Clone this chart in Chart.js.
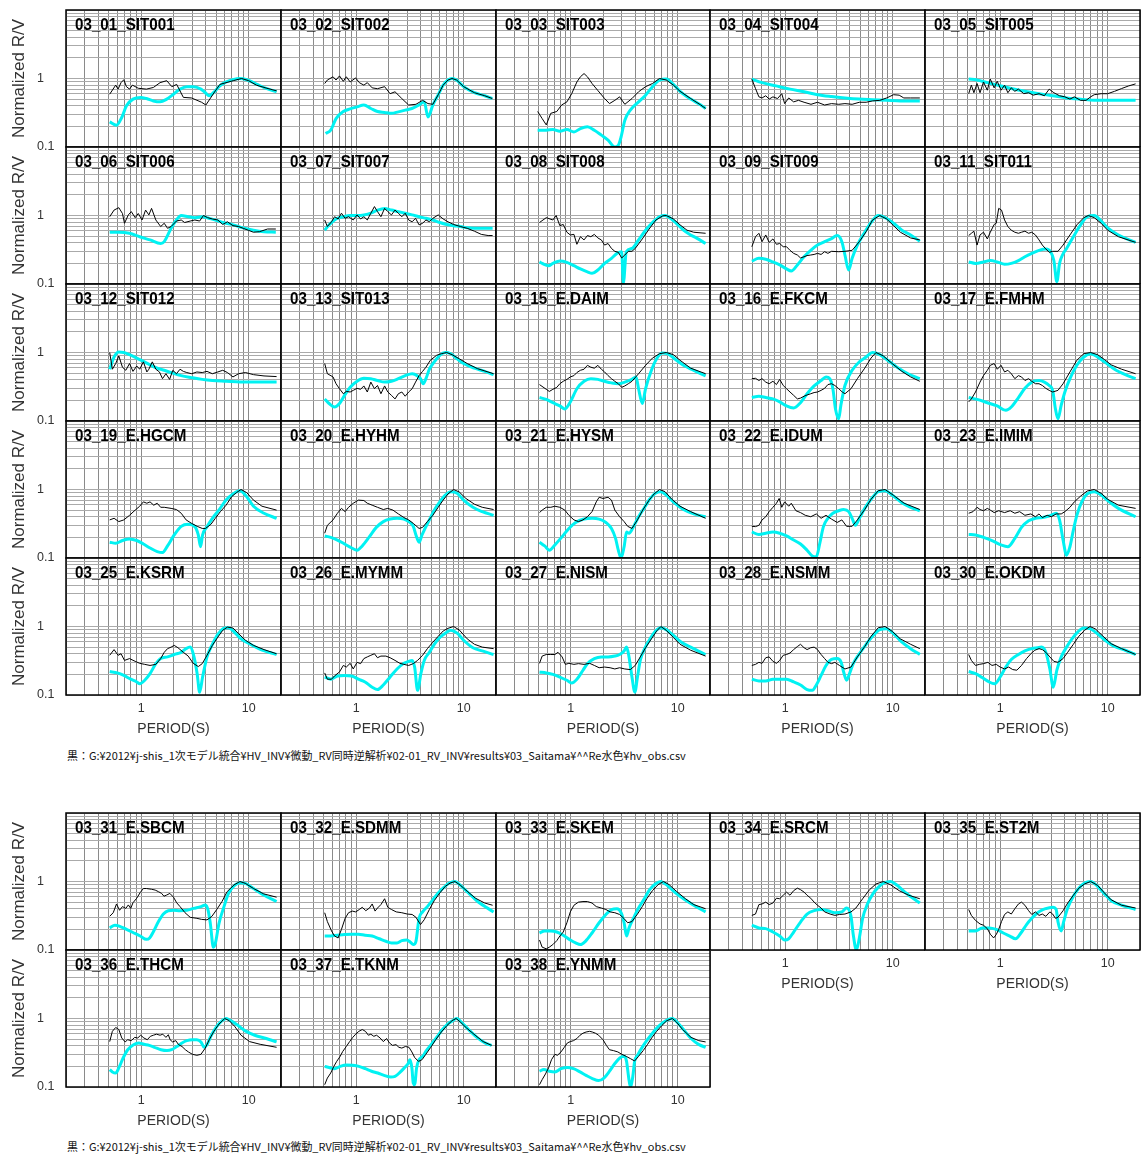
<!DOCTYPE html>
<html>
<head>
<meta charset="utf-8">
<script src="https://cdn.jsdelivr.net/npm/chart.js@4.4.1/dist/chart.umd.min.js"></script>
<style>
  body { margin: 0; background: #fff; width: 1141px; height: 1155px; position: relative; overflow: hidden; }
  canvas { position: absolute; }
  .note { position: absolute; left: 67px; font-family: "Noto Sans CJK JP", sans-serif; font-size: 11px; line-height: 14px;
          color: #111; white-space: nowrap; transform-origin: 0 50%; }
</style>
</head>
<body>
<div class="note" id="note1" style="top:748px">黒：G:¥2012¥j-shis_1次モデル統合¥HV_INV¥微動_RV同時逆解析¥02-01_RV_INV¥results¥03_Saitama¥^^Re水色¥hv_obs.csv</div>
<div class="note" id="note2" style="top:1139px">黒：G:¥2012¥j-shis_1次モデル統合¥HV_INV¥微動_RV同時逆解析¥02-01_RV_INV¥results¥03_Saitama¥^^Re水色¥hv_obs.csv</div>
<script>
// station panels, in reading order (25 on the first sheet, 8 on the second)
const stations = [
  '03_01_SIT001', '03_02_SIT002', '03_03_SIT003', '03_04_SIT004', '03_05_SIT005',
  '03_06_SIT006', '03_07_SIT007', '03_08_SIT008', '03_09_SIT009', '03_11_SIT011',
  '03_12_SIT012', '03_13_SIT013', '03_15_E.DAIM', '03_16_E.FKCM', '03_17_E.FMHM',
  '03_19_E.HGCM', '03_20_E.HYHM', '03_21_E.HYSM', '03_22_E.IDUM', '03_23_E.IMIM',
  '03_25_E.KSRM', '03_26_E.MYMM', '03_27_E.NISM', '03_28_E.NSMM', '03_30_E.OKDM',
  '03_31_E.SBCM', '03_32_E.SDMM', '03_33_E.SKEM', '03_34_E.SRCM', '03_35_E.ST2M',
  '03_36_E.THCM', '03_37_E.TKNM', '03_38_E.YNMM'
];

// observed R/V (black), flat lists of period, value
const observed = [
  [.51,.59,.58,.80,.61,.70,.65,.87,.69,.96,.73,.76,.78,.70,.83,.80,.94,.72,1.12,.70,1.3,.74,1.5,.87,1.73,.93,1.93,.76,2.14,.82,2.47,.53,2.94,.52,3.65,.45,4.0,.41,4.9,.66,5.4,.82,7.2,.93,8.6,1.0,10,.93,11.8,.80,14.8,.72,18.2,.66],
  [.51,.845,.54,.95,.61,1.06,.65,.95,.70,1.09,.76,.91,.81,1.06,.88,.89,.99,1.02,1.07,.87,1.18,.80,1.27,.87,1.41,.73,1.58,.71,1.84,.76,2.07,.60,2.3,.64,2.66,.51,3.08,.41,3.6,.42,4.15,.48,4.66,.43,5.17,.42,5.8,.58,6.45,.80,7.15,.95,7.8,1.0,8.6,.95,10,.76,12.6,.62,15.7,.56,18.5,.51],
  [.49,.33,.54,.26,.59,.21,.65,.31,.74,.33,.82,.41,.92,.456,1.02,.60,1.14,.89,1.23,1.06,1.33,1.18,1.43,1.06,1.58,.845,1.78,.675,2.07,.51,2.3,.43,2.58,.48,2.86,.54,3.2,.42,3.73,.51,4.3,.64,5.0,.76,5.8,.845,6.75,1.0,7.8,.95,9.1,.80,10.5,.65,13.2,.51,16.4,.41,18.2,.365],
  [.49,.98,.53,.714,.57,.54,.61,.52,.66,.56,.71,.50,.77,.54,.85,.51,.93,.60,.99,.43,1.08,.52,1.2,.456,1.33,.48,1.5,.45,1.74,.42,2.0,.45,2.33,.41,2.7,.43,3.15,.42,3.6,.43,4.2,.42,4.9,.45,5.67,.45,6.5,.47,7.6,.48,8.8,.52,10.2,.58,11.5,.571,12.7,.52,14.7,.52,17.9,.52],
  [.51,.60,.54,.80,.57,.62,.61,.845,.65,.62,.70,.89,.76,.675,.81,.98,.88,.73,.94,.91,1.02,.675,1.1,.80,1.18,.62,1.27,.73,1.37,.65,1.48,.70,1.66,.60,1.84,.62,2.03,.571,2.3,.60,2.58,.56,2.86,.70,3.16,.62,3.57,.56,4.0,.54,4.46,.50,4.9,.54,5.6,.48,6.3,.48,6.95,.54,7.5,.58,8.7,.60,10,.60,11.6,.65,13.5,.714,15.7,.78,18.2,.835],
  [.51,.96,.56,1.2,.62,1.3,.67,1.07,.70,.77,.76,1.02,.81,1.14,.88,.93,.94,1.07,1.02,.86,1.1,1.2,1.18,1.02,1.25,1.27,1.37,.86,1.52,.69,1.64,.77,1.76,.65,1.9,.69,2.13,.83,2.36,.86,2.54,.79,2.86,.83,3.16,.86,3.5,.83,3.8,1.0,4.15,.93,4.6,.89,5.17,.86,5.74,.74,6.35,.81,7.15,.71,8.06,.69,8.9,.65,9.9,.61,11.1,.57,12.6,.58,15,.635,17.9,.635],
  [.51,.86,.54,.69,.59,.81,.63,.96,.68,.89,.73,1.08,.79,.91,.85,.96,.94,.86,1.02,1.02,1.1,.89,1.18,.96,1.27,.86,1.37,1.08,1.48,1.35,1.58,1.14,1.7,.96,1.84,1.27,1.97,1.14,2.13,1.02,2.3,1.2,2.47,1.08,2.66,.96,2.86,1.08,3.08,.86,3.32,.81,3.57,.91,3.85,.73,4.15,.77,4.46,.86,4.8,.81,5.17,.91,5.8,1.02,6.45,.89,7.15,.81,8.06,.74,9.34,.69,10.8,.65,12.6,.59,14.6,.53,16.9,.51,18.6,.51],
  [.51,.79,.59,.93,.68,.86,.73,1.0,.79,.71,.85,.74,.92,.57,.99,.52,1.07,.53,1.14,.38,1.23,.49,1.33,.44,1.43,.51,1.54,.49,1.66,.53,1.79,.47,1.93,.44,2.07,.37,2.23,.39,2.4,.33,2.58,.30,2.78,.29,2.99,.24,3.2,.265,3.45,.30,3.73,.30,4.0,.33,4.66,.455,5.4,.635,6.25,.86,7.25,.99,7.8,1.0,9.1,.89,10.5,.73,12.2,.61,14.1,.57,18.2,.55],
  [.49,.35,.53,.49,.57,.55,.61,.415,.66,.52,.71,.405,.77,.455,.83,.38,.89,.39,.96,.35,1.03,.35,1.11,.31,1.2,.28,1.3,.265,1.39,.24,1.5,.25,1.6,.26,1.73,.265,1.86,.27,2.0,.28,2.16,.27,2.33,.296,2.5,.28,2.7,.30,3.15,.296,3.6,.30,4.2,.31,4.9,.415,5.67,.58,6.5,.86,7.6,1.0,8.8,.89,10.2,.71,11.8,.57,14.7,.47,17.9,.44],
  [.51,.51,.54,.55,.57,.59,.61,.37,.65,.52,.70,.57,.76,.455,.81,.57,.88,.74,.92,.77,.97,1.27,1.03,1.2,1.1,.86,1.18,.69,1.27,.61,1.37,.57,1.48,.55,1.58,.57,1.7,.59,1.84,.55,1.97,.57,2.13,.52,2.3,.44,2.47,.37,2.66,.325,2.86,.29,3.08,.30,3.45,.30,3.85,.37,4.46,.52,5.17,.73,6.0,.93,6.6,1.0,7.5,.93,8.7,.77,10,.61,12.6,.49,18.2,.405],
  [.51,1.0,.54,.57,.58,.69,.62,.89,.67,.61,.72,.55,.78,.69,.84,.53,.91,.635,.97,.57,1.05,.73,1.13,.52,1.18,.57,1.27,.73,1.37,.57,1.48,.52,1.58,.415,1.7,.49,1.84,.405,1.97,.55,2.13,.49,2.3,.57,2.47,.53,2.66,.51,2.95,.49,3.3,.52,3.7,.51,4.1,.53,4.6,.49,5.17,.52,5.74,.55,6.35,.51,7.15,.44,8.06,.49,9.34,.51,11.1,.475,13.9,.455,18.2,.445],
  [.51,.69,.54,.49,.61,.44,.65,.35,.70,.296,.76,.25,.81,.27,.88,.265,.94,.28,1.02,.30,1.1,.29,1.18,.325,1.27,.265,1.37,.37,1.48,.296,1.58,.33,1.7,.25,1.84,.325,1.97,.265,2.13,.237,2.3,.21,2.47,.25,2.66,.265,2.86,.23,3.08,.265,3.32,.296,3.57,.37,3.85,.46,4.15,.53,4.46,.61,4.9,.77,5.6,.91,6.2,.96,6.95,1.0,7.8,.93,9.1,.81,10.8,.69,13.5,.58,19,.49],
  [.51,.34,.59,.29,.63,.27,.68,.29,.74,.31,.79,.35,.85,.38,.92,.405,.99,.44,1.07,.46,1.14,.51,1.23,.55,1.33,.57,1.43,.65,1.54,.61,1.66,.59,1.79,.65,1.93,.57,2.07,.52,2.23,.46,2.4,.415,2.58,.38,2.78,.35,2.99,.31,3.2,.325,3.45,.35,3.73,.38,4.3,.49,5.0,.65,5.8,.83,6.75,.96,7.8,1.0,9.1,.93,10.5,.77,13.2,.59,18.2,.49],
  [.49,.415,.53,.42,.57,.39,.61,.415,.66,.37,.71,.35,.77,.38,.83,.34,.89,.405,.96,.33,1.03,.296,1.11,.265,1.2,.237,1.3,.21,1.39,.216,1.5,.23,1.6,.24,1.73,.25,1.86,.26,2.0,.265,2.16,.28,2.33,.30,2.5,.34,2.7,.35,2.9,.33,3.15,.296,3.4,.265,3.6,.25,4.1,.296,4.7,.415,5.5,.59,6.3,.83,7.0,1.0,8.2,.89,9.9,.69,12.2,.53,14.7,.44,17.9,.38],
  [.51,.19,.54,.21,.59,.265,.65,.37,.70,.46,.76,.55,.81,.65,.88,.69,.94,.57,1.02,.65,1.1,.52,1.18,.55,1.27,.49,1.37,.415,1.48,.46,1.58,.44,1.7,.39,1.84,.415,1.97,.38,2.13,.35,2.3,.35,2.47,.33,2.66,.30,2.86,.28,3.08,.265,3.45,.28,3.85,.35,4.46,.52,5.17,.77,6.0,.96,6.95,1.0,8.06,.93,9.34,.79,10.8,.66,13.5,.57,18.2,.49],
  [.51,.36,.56,.38,.62,.34,.69,.36,.78,.42,.88,.50,.97,.57,1.05,.66,1.13,.63,1.21,.66,1.31,.59,1.41,.63,1.52,.55,1.64,.55,1.9,.53,2.13,.51,2.36,.45,2.62,.36,2.95,.32,3.32,.29,3.7,.27,3.97,.27,4.46,.31,4.9,.38,5.46,.475,6.17,.59,6.95,.786,7.7,.9,8.5,1.0,9.6,.9,11.1,.70,13.3,.57,18.2,.50],
  [.51,.23,.54,.30,.61,.36,.67,.45,.73,.53,.79,.475,.85,.55,.94,.63,1.05,.70,1.18,.69,1.27,.63,1.41,.59,1.58,.55,1.79,.51,1.97,.53,2.2,.50,2.47,.44,2.78,.39,3.08,.36,3.4,.32,3.85,.27,4.15,.28,4.6,.34,5.17,.42,5.8,.55,6.45,.70,7.15,.86,8.06,1.0,9.1,.92,10.5,.74,12.6,.61,14.9,.55,19,.51],
  [.51,.46,.54,.50,.59,.55,.65,.55,.71,.57,.79,.55,.88,.50,.96,.42,1.07,.36,1.18,.34,1.3,.36,1.43,.40,1.58,.475,1.73,.66,1.84,.77,2.0,.74,2.23,.77,2.4,.70,2.58,.50,2.86,.40,3.15,.34,3.4,.29,3.73,.27,4.2,.36,4.7,.50,5.4,.70,6.0,.86,6.75,1.0,7.6,.93,8.8,.72,10.5,.57,13.2,.475,18.2,.38],
  [.49,.29,.53,.287,.57,.30,.61,.36,.66,.40,.71,.475,.77,.55,.83,.63,.88,.74,.93,.55,.99,.66,1.08,.57,1.14,.63,1.26,.49,1.39,.46,1.54,.42,1.73,.40,1.95,.44,2.16,.38,2.4,.42,2.7,.37,3.05,.33,3.37,.36,3.73,.29,4.2,.29,4.7,.36,5.5,.51,6.3,.72,7.35,.96,8.5,1.0,10.2,.82,12.8,.63,17.9,.51],
  [.51,.45,.56,.475,.61,.55,.65,.51,.70,.49,.76,.53,.81,.50,.88,.46,.97,.49,1.1,.46,1.24,.49,1.37,.45,1.52,.475,1.7,.42,1.93,.44,2.13,.40,2.3,.44,2.47,.39,2.74,.42,2.99,.40,3.32,.44,3.7,.44,4.0,.475,4.46,.55,4.9,.66,5.6,.80,6.45,.95,7.5,1.0,8.7,.88,10,.72,12.6,.59,18.2,.53],
  [.51,.38,.56,.46,.61,.38,.65,.40,.70,.32,.78,.34,.88,.31,.97,.29,1.08,.28,1.21,.27,1.37,.28,1.52,.34,1.64,.42,1.76,.475,1.9,.50,2.03,.53,2.2,.49,2.47,.42,2.74,.37,3.05,.29,3.4,.26,3.7,.287,4.1,.38,4.6,.53,5.17,.70,5.74,.88,6.35,.98,7.15,.95,8.06,.786,9.34,.63,11.1,.53,13.9,.46,18.2,.40],
  [.51,.21,.54,.17,.59,.17,.63,.19,.70,.217,.76,.27,.81,.256,.88,.29,.94,.24,1.02,.30,1.1,.287,1.18,.34,1.27,.36,1.37,.38,1.48,.40,1.58,.35,1.7,.37,1.89,.37,2.07,.35,2.3,.32,2.55,.29,2.78,.28,3.08,.27,3.4,.287,3.73,.32,4.15,.38,4.6,.475,5.17,.59,5.8,.72,6.45,.86,7.15,.94,8.06,1.0,9.1,.89,10.8,.66,12.6,.55,14.9,.50,19,.475],
  [.51,.29,.54,.37,.59,.39,.65,.39,.71,.39,.76,.42,.83,.36,.89,.28,.96,.29,1.07,.28,1.18,.287,1.33,.28,1.5,.29,1.66,.27,1.84,.25,2.07,.256,2.33,.25,2.58,.24,2.86,.25,3.2,.24,3.6,.235,4.0,.27,4.46,.36,5.0,.49,5.67,.66,6.35,.86,6.95,1.0,7.8,.88,9.1,.69,10.5,.55,13.2,.45,18.2,.37],
  [.49,.27,.53,.28,.57,.30,.61,.29,.66,.35,.71,.36,.77,.31,.83,.29,.89,.32,.96,.38,1.03,.39,1.11,.41,1.2,.46,1.3,.51,1.39,.55,1.5,.49,1.6,.46,1.73,.49,1.86,.50,2.0,.46,2.16,.39,2.33,.34,2.5,.30,2.7,.287,2.9,.30,3.2,.27,3.6,.24,4.1,.256,4.7,.36,5.5,.51,6.3,.72,7.35,.96,8.5,1.0,9.9,.85,11.8,.66,14.7,.55,17.9,.475],
  [.51,.39,.54,.32,.59,.27,.64,.28,.70,.287,.77,.30,.84,.27,.92,.28,1.0,.256,1.1,.24,1.2,.256,1.31,.235,1.43,.23,1.58,.27,1.76,.34,1.93,.40,2.1,.45,2.3,.475,2.47,.46,2.66,.42,2.9,.36,3.16,.31,3.45,.30,3.85,.34,4.25,.42,4.8,.55,5.4,.72,6.1,.88,6.85,1.0,7.7,.92,8.9,.74,10.8,.56,13.5,.475,18.2,.39],
  [.51,.31,.55,.35,.59,.47,.63,.38,.67,.43,.72,.405,.76,.455,.80,.405,.84,.49,.91,.57,.98,.69,1.05,.79,1.12,.79,1.25,.77,1.35,.75,1.45,.71,1.55,.67,1.63,.61,1.73,.635,1.85,.67,2.0,.59,2.14,.49,2.3,.43,2.56,.35,2.86,.30,3.3,.29,3.65,.28,4.1,.275,4.55,.31,5.05,.39,5.65,.51,6.3,.71,7.3,.89,8.3,1.0,9.3,.94,11.1,.79,13.8,.66,18.2,.59],
  [.51,.35,.54,.26,.59,.19,.63,.16,.68,.15,.73,.2,.79,.29,.85,.35,.92,.37,.99,.36,1.07,.39,1.14,.42,1.23,.375,1.33,.41,1.41,.47,1.5,.37,1.58,.41,1.7,.46,1.84,.56,1.97,.42,2.13,.39,2.36,.36,2.66,.35,2.99,.335,3.32,.33,3.6,.30,3.97,.235,4.3,.277,4.8,.39,5.33,.525,6.0,.68,6.75,.85,7.5,.95,8.3,1.0,9.34,.88,10.8,.72,12.9,.57,15.7,.485,18.6,.45],
  [.51,.14,.54,.11,.59,.104,.63,.11,.68,.12,.74,.137,.79,.16,.85,.183,.92,.25,.99,.36,1.07,.45,1.18,.50,1.3,.51,1.43,.51,1.58,.485,1.73,.43,1.93,.41,2.13,.39,2.33,.36,2.58,.35,2.86,.33,3.15,.287,3.4,.25,3.73,.26,4.2,.335,4.66,.43,5.17,.57,5.8,.735,6.55,.9,7.35,1.0,8.3,.9,9.7,.72,11.8,.56,14.1,.46,18.2,.40],
  [.49,.32,.53,.335,.57,.46,.61,.47,.66,.50,.71,.46,.77,.485,.83,.57,.89,.56,.96,.63,1.03,.70,1.11,.63,1.2,.735,1.3,.80,1.39,.76,1.5,.70,1.6,.63,1.73,.57,1.86,.50,2.0,.45,2.16,.41,2.33,.36,2.62,.335,2.9,.32,3.2,.33,3.6,.335,4.1,.36,4.55,.41,5.26,.56,6.1,.76,7.0,.92,8.2,1.0,9.5,.9,11.5,.735,14.1,.63,17.9,.56],
  [.51,.39,.54,.32,.59,.27,.65,.24,.70,.23,.76,.205,.81,.17,.87,.15,.92,.168,.97,.2,1.03,.26,1.1,.33,1.18,.36,1.27,.335,1.37,.40,1.48,.47,1.58,.50,1.7,.45,1.84,.375,1.97,.33,2.13,.36,2.3,.32,2.47,.335,2.66,.31,2.9,.36,3.08,.335,3.27,.29,3.45,.30,3.85,.375,4.25,.485,4.8,.63,5.4,.80,6.1,.92,6.95,1.0,8.06,.88,9.34,.68,10.8,.54,13.5,.45,18.2,.41],
  [.51,.46,.54,.65,.58,.74,.62,.69,.66,.52,.71,.455,.75,.49,.81,.475,.87,.53,.93,.52,.99,.57,1.06,.52,1.14,.49,1.22,.55,1.3,.57,1.39,.59,1.5,.57,1.59,.59,1.7,.53,1.79,.58,1.86,.49,1.96,.455,2.1,.475,2.23,.415,2.4,.39,2.58,.35,2.75,.325,3.0,.30,3.3,.29,3.6,.30,3.95,.37,4.3,.49,4.75,.65,5.3,.83,6.0,1.0,6.6,.93,7.4,.77,8.5,.57,10.2,.46,12.8,.42,18.2,.38],
  [.51,.108,.54,.135,.58,.16,.62,.2,.66,.237,.71,.28,.75,.33,.81,.39,.87,.46,.93,.53,.99,.59,1.06,.65,1.14,.69,1.22,.65,1.3,.57,1.37,.59,1.46,.55,1.55,.57,1.67,.52,1.79,.46,1.92,.51,2.04,.44,2.18,.405,2.35,.415,2.5,.38,2.66,.37,2.87,.39,3.1,.38,3.3,.325,3.5,.27,3.8,.237,4.1,.25,4.45,.30,4.95,.38,5.5,.49,6.2,.635,7.0,.79,7.8,.93,8.5,1.0,9.3,.89,10.6,.73,12.8,.57,15.2,.46,18.2,.405],
  [.51,.108,.54,.128,.58,.155,.62,.19,.66,.25,.71,.30,.75,.29,.81,.325,.87,.38,.93,.44,.99,.46,1.06,.475,1.14,.51,1.22,.57,1.3,.61,1.39,.635,1.5,.65,1.59,.635,1.7,.61,1.82,.57,2.0,.49,2.15,.405,2.3,.35,2.5,.34,2.75,.325,3.0,.30,3.3,.28,3.6,.26,3.95,.24,4.3,.28,4.75,.34,5.2,.415,5.7,.52,6.35,.65,7.1,.79,7.9,.93,8.9,1.0,9.7,.89,11.1,.69,13.3,.53,15.7,.475,18.2,.455]
];

// model R/V (cyan), flat lists of period, value
const model = [
  [.51,.233,.59,.208,.66,.27,.73,.40,.84,.50,.99,.53,1.12,.51,1.3,.47,1.5,.456,1.73,.50,2.0,.59,2.3,.70,2.66,.76,3.08,.76,3.6,.70,3.96,.62,4.3,.56,4.7,.62,5.4,.78,6.2,.89,8.3,1.0,9.6,.96,11.8,.83,14.8,.71,18.2,.64],
  [.52,.157,.58,.176,.65,.26,.76,.33,.88,.36,1.02,.385,1.18,.41,1.37,.365,1.58,.33,1.84,.32,2.13,.31,2.47,.326,2.86,.345,3.3,.365,3.85,.41,4.3,.456,4.66,.275,5.17,.41,5.8,.58,6.45,.80,7.15,.95,7.8,1.0,8.6,.95,10,.76,12.6,.62,15.7,.56,18.5,.51],
  [.49,.176,.59,.176,.68,.18,.79,.17,.92,.18,1.07,.166,1.23,.186,1.43,.197,1.66,.176,1.93,.149,2.23,.126,2.58,.10,2.78,.106,2.95,.14,3.2,.246,3.6,.345,4.3,.456,5.0,.571,5.8,.76,6.75,.95,7.8,.98,9.1,.82,10.5,.65,13.2,.50,16.4,.41,18.2,.365],
  [.49,.98,.61,.87,.82,.78,1.11,.70,1.5,.64,2.0,.58,2.7,.545,3.6,.52,4.9,.50,6.5,.49,8.8,.48,11.8,.47,17.9,.47],
  [.51,.98,.61,.95,.76,.87,.94,.80,1.27,.714,1.7,.65,2.3,.60,3.08,.56,4.15,.52,5.6,.50,7.5,.48,10,.48,18.2,.48],
  [.51,.57,.62,.57,.78,.55,.97,.49,1.21,.44,1.52,.39,1.64,.415,1.9,.65,2.13,.86,2.36,1.0,2.74,.96,3.16,.93,3.7,.96,4.27,.91,4.9,.86,5.74,.79,7.15,.73,8.9,.66,11.1,.61,13.9,.58,17.9,.57],
  [.51,.61,.56,.73,.65,.89,.76,.96,.88,1.0,1.02,1.0,1.18,1.02,1.37,1.08,1.58,1.2,1.84,1.27,2.13,1.2,2.47,1.14,2.86,1.08,3.32,1.02,3.85,.96,4.46,.91,5.17,.86,6.0,.79,6.95,.74,8.06,.71,9.34,.69,10.8,.66,12.6,.65,15,.65,18.6,.65],
  [.51,.21,.54,.2,.62,.185,.68,.2,.79,.217,.92,.207,1.07,.185,1.23,.166,1.43,.15,1.58,.143,1.79,.16,2.07,.2,2.4,.237,2.7,.28,2.99,.296,3.1,.103,3.3,.296,3.73,.33,4.3,.44,5.0,.61,5.8,.79,6.75,.96,7.6,1.0,8.4,.93,9.7,.77,11.3,.61,13.2,.52,15.3,.46,18.2,.39],
  [.49,.216,.57,.237,.66,.23,.77,.21,.89,.19,1.03,.166,1.14,.155,1.3,.19,1.5,.25,1.73,.31,2.0,.37,2.33,.415,2.7,.46,3.05,.51,3.37,.415,3.6,.265,3.9,.16,4.2,.237,4.7,.37,5.5,.57,6.3,.79,7.35,1.0,8.5,.93,10.2,.77,12.2,.61,14.7,.52,17.9,.42],
  [.51,.21,.59,.2,.70,.21,.81,.22,.94,.21,1.1,.194,1.27,.2,1.48,.22,1.7,.25,1.97,.28,2.3,.31,2.66,.325,2.95,.296,3.16,.22,3.37,.108,3.57,.2,3.8,.265,4.15,.33,4.8,.49,5.6,.73,6.45,.96,7.5,1.0,8.7,.83,10,.66,12.6,.52,18.2,.405],
  [.51,.57,.56,.86,.62,1.02,.69,1.0,.78,.93,.91,.83,1.05,.74,1.21,.66,1.41,.59,1.64,.55,1.9,.51,2.36,.46,2.95,.43,3.7,.405,4.6,.39,6.2,.38,8.3,.37,18.2,.37],
  [.51,.21,.56,.18,.63,.16,.70,.18,.78,.237,.88,.31,1.02,.38,1.18,.42,1.37,.415,1.58,.39,1.84,.37,2.13,.38,2.47,.415,2.86,.46,3.32,.49,3.73,.455,3.97,.415,4.2,.35,4.46,.415,4.8,.57,5.33,.73,6.0,.91,6.75,1.0,7.6,.96,8.7,.81,10,.69,12.6,.59,15.7,.53,19,.475],
  [.51,.22,.59,.207,.68,.185,.79,.166,.88,.15,.99,.19,1.14,.296,1.33,.38,1.54,.415,1.79,.405,2.07,.38,2.4,.36,2.78,.35,3.2,.37,3.73,.405,4.07,.44,4.3,.296,4.66,.18,5.0,.296,5.67,.55,6.35,.81,7.15,.98,8.06,.96,9.34,.81,11.3,.65,14.1,.55,18.2,.455],
  [.49,.22,.57,.23,.66,.22,.77,.21,.89,.19,1.03,.166,1.2,.155,1.39,.185,1.6,.25,1.86,.325,2.16,.39,2.4,.44,2.6,.415,2.78,.296,2.94,.15,3.15,.108,3.3,.17,3.6,.33,4.2,.55,4.9,.73,5.67,.86,6.5,1.0,7.6,.93,8.8,.79,11,.61,13.9,.49,17.9,.415],
  [.51,.22,.61,.207,.76,.185,.94,.166,1.13,.143,1.27,.16,1.48,.22,1.7,.30,1.97,.37,2.3,.39,2.58,.37,2.86,.33,3.08,.28,3.27,.15,3.45,.108,3.7,.17,4.0,.265,4.46,.415,5.17,.65,6.0,.86,6.95,.96,8.06,.86,9.34,.73,11.6,.57,14.6,.475,18.2,.415],
  [.51,.17,.58,.164,.67,.18,.78,.19,.91,.18,1.05,.16,1.21,.14,1.41,.124,1.58,.12,1.76,.15,2.03,.217,2.36,.29,2.74,.31,3.16,.287,3.4,.217,3.57,.146,3.73,.217,4.1,.287,4.6,.38,5.33,.51,6.17,.70,7.15,.86,8.3,.96,9.6,.786,11.1,.57,13.9,.45,18.2,.38],
  [.51,.21,.58,.2,.67,.183,.78,.16,.91,.14,1.02,.13,1.14,.15,1.33,.205,1.54,.28,1.79,.34,2.07,.37,2.4,.38,2.78,.37,3.08,.34,3.4,.29,3.6,.217,3.85,.17,4.1,.217,4.3,.256,4.8,.36,5.33,.50,6.0,.66,6.75,.83,7.6,.93,8.7,.88,10,.70,12.2,.55,14.9,.475,19,.42],
  [.51,.17,.57,.15,.63,.13,.71,.155,.83,.205,.96,.27,1.11,.33,1.33,.37,1.58,.38,1.84,.37,2.13,.33,2.4,.27,2.62,.193,2.78,.13,2.95,.10,3.15,.146,3.32,.24,3.5,.23,3.85,.287,4.3,.40,4.9,.55,5.46,.72,6.17,.88,6.95,.93,7.8,.83,9.1,.66,11.3,.51,14.1,.44,18.2,.40],
  [.49,.24,.57,.22,.66,.23,.77,.24,.89,.23,1.03,.21,1.2,.183,1.39,.16,1.6,.13,1.79,.107,1.95,.104,2.1,.164,2.27,.287,2.5,.38,2.78,.45,3.15,.49,3.5,.51,3.9,.475,4.2,.38,4.5,.30,4.9,.38,5.5,.53,6.3,.72,7.35,.93,8.5,.96,9.9,.83,12.2,.64,14.7,.55,17.9,.49],
  [.51,.22,.59,.217,.70,.2,.84,.18,1.02,.155,1.18,.146,1.37,.193,1.58,.28,1.84,.35,2.13,.38,2.47,.39,2.86,.41,3.32,.45,3.57,.36,3.85,.183,4.15,.11,4.46,.146,4.8,.256,5.17,.42,5.74,.66,6.45,.86,7.5,.93,8.7,.83,10.4,.66,12.6,.53,18.2,.40],
  [.51,.22,.60,.21,.69,.193,.80,.17,.91,.155,.97,.146,1.08,.164,1.21,.205,1.37,.287,1.52,.34,1.76,.36,2.03,.39,2.36,.42,2.62,.475,2.86,.50,3.05,.40,3.32,.205,3.5,.11,3.73,.183,4.1,.36,4.6,.55,5.17,.77,5.8,.93,6.5,.96,7.35,.83,8.5,.66,10.4,.55,13,.46,18.2,.39],
  [.51,.183,.58,.17,.67,.19,.78,.193,.91,.19,1.05,.17,1.21,.155,1.41,.13,1.58,.12,1.79,.14,2.07,.183,2.4,.24,2.78,.29,3.08,.31,3.32,.32,3.5,.256,3.73,.117,4.0,.205,4.3,.32,4.8,.42,5.33,.55,6.0,.69,6.75,.80,7.6,.88,8.7,.80,10,.63,12.2,.49,14.9,.44,19,.39],
  [.51,.217,.59,.21,.68,.2,.79,.183,.92,.164,1.02,.15,1.14,.17,1.3,.23,1.43,.287,1.66,.34,1.93,.36,2.23,.36,2.58,.37,2.86,.39,3.15,.44,3.32,.50,3.5,.36,3.73,.183,3.97,.11,4.2,.183,4.46,.32,4.9,.475,5.5,.66,6.2,.86,6.95,.96,7.8,.9,9.1,.74,10.8,.59,13.2,.50,18.2,.39],
  [.49,.17,.57,.16,.66,.16,.77,.17,.89,.17,1.03,.17,1.2,.155,1.39,.14,1.6,.12,1.79,.117,1.95,.14,2.16,.193,2.4,.27,2.7,.33,3.05,.34,3.32,.30,3.5,.217,3.73,.164,3.97,.205,4.3,.287,4.9,.40,5.67,.55,6.5,.72,7.6,.9,8.8,.93,10.2,.786,12.2,.59,14.7,.475,17.9,.39],
  [.51,.22,.59,.205,.68,.18,.79,.155,.89,.146,1.0,.183,1.13,.256,1.27,.33,1.48,.39,1.7,.44,1.97,.475,2.23,.49,2.43,.50,2.66,.42,2.9,.24,3.12,.13,3.37,.23,3.7,.36,4.15,.50,4.66,.66,5.26,.83,6.0,.95,6.85,.93,7.9,.80,9.34,.64,11.6,.51,14.6,.45,18.2,.39],
  [.51,.21,.57,.23,.64,.22,.73,.2,.84,.18,.98,.16,1.12,.143,1.2,.15,1.3,.185,1.45,.26,1.61,.335,1.79,.375,2.0,.38,2.3,.375,2.66,.38,3.08,.405,3.6,.43,3.96,.455,4.2,.38,4.4,.245,4.7,.11,4.9,.125,5.3,.245,5.9,.43,6.5,.67,7.3,.86,8.3,.96,9.3,.94,11.1,.79,13.8,.635,18.2,.51],
  [.51,.16,.58,.16,.67,.164,.78,.168,.91,.17,1.05,.17,1.21,.164,1.41,.16,1.64,.146,1.89,.134,2.13,.127,2.4,.127,2.66,.137,2.95,.14,3.2,.13,3.4,.12,3.6,.134,3.85,.29,4.15,.36,4.6,.43,5.17,.54,5.8,.68,6.55,.82,7.35,.95,8.3,1.0,9.34,.88,11.1,.68,13.5,.51,19,.36],
  [.51,.177,.57,.19,.65,.19,.74,.183,.85,.164,.99,.14,1.11,.127,1.23,.12,1.37,.134,1.58,.177,1.84,.25,2.13,.33,2.4,.39,2.7,.40,2.95,.35,3.15,.25,3.32,.16,3.5,.21,3.85,.29,4.3,.41,4.9,.57,5.46,.76,6.17,.92,6.95,1.0,7.8,.9,9.34,.70,11.3,.56,14.1,.45,18.2,.36],
  [.49,.23,.57,.21,.66,.205,.77,.183,.89,.16,.99,.14,1.08,.146,1.2,.183,1.39,.256,1.6,.335,1.86,.375,2.16,.39,2.5,.375,2.9,.35,3.37,.36,3.73,.41,4.1,.31,4.3,.168,4.6,.10,4.9,.15,5.26,.29,5.8,.46,6.55,.66,7.35,.82,8.3,.95,9.5,1.0,11,.88,13.3,.68,17.9,.485],
  [.51,.19,.59,.19,.68,.21,.79,.21,.92,.2,1.07,.177,1.23,.16,1.39,.146,1.56,.177,1.76,.235,1.97,.29,2.23,.35,2.5,.39,2.82,.41,3.08,.42,3.32,.39,3.45,.26,3.7,.19,3.9,.26,4.25,.41,4.8,.61,5.4,.80,6.1,.95,6.95,1.0,8.06,.85,9.34,.66,10.8,.525,13.5,.45,18.2,.39],
  [.51,.18,.54,.166,.58,.16,.62,.19,.68,.265,.75,.35,.85,.415,.95,.44,1.06,.42,1.19,.405,1.33,.38,1.53,.35,1.74,.34,1.92,.35,2.15,.39,2.4,.44,2.66,.475,3.0,.49,3.3,.49,3.6,.455,3.85,.38,4.1,.415,4.45,.55,4.95,.73,5.5,.89,6.2,1.0,6.8,.93,7.8,.81,9.3,.66,11.4,.57,14.6,.51,18.2,.455],
  [.51,.2,.56,.193,.63,.185,.71,.2,.81,.21,.93,.207,1.06,.2,1.22,.185,1.39,.17,1.59,.16,1.82,.148,2.1,.14,2.3,.143,2.58,.166,2.83,.193,3.05,.22,3.16,.25,3.3,.19,3.4,.114,3.5,.108,3.65,.19,3.85,.25,4.15,.28,4.5,.34,5.0,.42,5.7,.55,6.35,.69,7.1,.83,7.9,.93,8.6,1.0,9.7,.86,11.1,.69,13.3,.53,15.8,.44,18.2,.405],
  [.51,.17,.56,.18,.63,.17,.71,.166,.81,.185,.93,.193,1.06,.185,1.22,.166,1.39,.148,1.59,.133,1.82,.124,2.04,.135,2.3,.17,2.58,.22,2.87,.265,3.16,.28,3.32,.237,3.45,.15,3.6,.10,3.8,.143,3.95,.237,4.2,.29,4.6,.37,5.2,.49,5.8,.61,6.4,.73,7.2,.86,8.1,.96,8.9,1.0,10,.86,11.3,.69,13.3,.51,15.8,.415,18.2,.38]
];

// gridlines and labelled ticks
const xGrid = [0.2, 0.3, 0.4, 0.5, 0.6, 0.7, 0.8, 0.9, 1, 2, 3, 4, 5, 6, 7, 8, 9, 10, 20];
const yGrid = [0.1, 0.2, 0.3, 0.4, 0.5, 0.6, 0.7, 0.8, 0.9, 1, 2, 3, 4, 5, 6, 7, 8, 9, 10];
const xTickLabels = [1, 10];
const yTickLabels = [0.1, 1];

Chart.defaults.font.family = '"Liberation Sans", Arial, sans-serif';

const pairs = flat => {
  const pts = [];
  for (let i = 0; i < flat.length; i += 2) pts.push({x: flat[i], y: flat[i + 1]});
  return pts;
};

// frame round the plot area and the station name in its corner
const panelFrame = {
  id: 'panelFrame',
  beforeDatasetsDraw(chart, args, opts) {
    const {ctx, chartArea: a} = chart;
    ctx.save();
    ctx.font = 'bold 16.5px "Liberation Sans", Arial, sans-serif';
    ctx.fillStyle = '#000';
    ctx.textBaseline = 'alphabetic';
    ctx.translate(a.left + 9, a.top + 19.5);
    ctx.scale(0.92, 1);
    ctx.fillText(opts.label, 0, 0);
    ctx.restore();
  },
  afterDraw(chart) {
    const {ctx, chartArea: a} = chart;
    ctx.save();
    ctx.strokeStyle = '#000';
    ctx.lineWidth = 1.5;
    ctx.strokeRect(a.left, a.top, a.right - a.left, a.bottom - a.top);
    ctx.restore();
  }
};

// the label overhang padding chart.js adds would shift the plot box, drop it
const noOverhang = s => { s.paddingLeft = s.paddingRight = s.paddingTop = s.paddingBottom = 0; };

const PANEL_W = 214.8, PANEL_H = 137;

function makePanel(i) {
  let row, col, top, showX;
  if (i < 25) {
    row = Math.floor(i / 5); col = i % 5;
    top = 10 + row * PANEL_H;
    showX = row === 4;
  } else {
    const j = i - 25;
    row = Math.floor(j / 5); col = j % 5;
    top = 813 + row * PANEL_H;
    showX = row === 1 || col >= 3;
  }
  const showY = col === 0;
  const left = Math.round(66 + col * PANEL_W);
  const right = Math.round(66 + (col + 1) * PANEL_W);
  const padL = showY ? 66 : 3;
  const padB = showX ? 48 : (showY ? 10 : 3);

  const cv = document.createElement('canvas');
  cv.width = right - left + padL + 3;
  cv.height = PANEL_H + 3 + padB;
  cv.style.left = (left - padL) + 'px';
  cv.style.top = (top - 3) + 'px';
  document.body.appendChild(cv);

  new Chart(cv, {
    type: 'line',
    data: {
      datasets: [
        { data: pairs(observed[i]), borderColor: '#000', borderWidth: 1, pointRadius: 0, tension: 0,
          borderJoinStyle: 'round' },
        { data: pairs(model[i]), borderColor: '#00f2f2', borderWidth: 3, pointRadius: 0,
          cubicInterpolationMode: 'monotone', borderJoinStyle: 'round' }
      ]
    },
    options: {
      responsive: false,
      animation: false,
      devicePixelRatio: 1,
      layout: { padding: { left: showY ? 37 : 3, top: 3, right: 3, bottom: showX ? 0 : padB } },
      plugins: {
        legend: { display: false },
        tooltip: { enabled: false },
        panelFrame: { label: stations[i] }
      },
      scales: {
        x: {
          type: 'logarithmic', min: 0.2, max: 20,
          afterBuildTicks: s => { s.ticks = xGrid.map(v => ({value: v})); },
          afterFit: s => { s.height = showX ? 48 : 0; noOverhang(s); },
          border: { display: false },
          grid: { color: '#8a8a8a', lineWidth: 1, drawTicks: false },
          ticks: {
            display: showX, autoSkip: false, maxRotation: 0, padding: 6, color: '#333',
            font: { size: 12.5 },
            callback: v => xTickLabels.includes(v) ? String(v) : ''
          },
          title: { display: showX, text: 'PERIOD(S)', color: '#333', font: { size: 14 }, padding: { top: 0, bottom: 5 } }
        },
        y: {
          type: 'logarithmic', min: 0.1, max: 10,
          afterBuildTicks: s => { s.ticks = yGrid.map(v => ({value: v})); },
          afterFit: s => { s.width = showY ? 29 : 0; noOverhang(s); },
          border: { display: false },
          grid: { color: '#aaaaaa', lineWidth: 1, drawTicks: false },
          ticks: {
            display: showY, autoSkip: false, crossAlign: 'far', padding: 0, color: '#333',
            font: { size: 12.5 },
            callback: v => yTickLabels.includes(v) ? String(v) : ''
          },
          title: { display: showY, text: 'Normalized R/V', color: '#333', font: { size: 17 }, padding: { top: -28, bottom: 0 } }
        }
      }
    },
    plugins: [panelFrame]
  });
}

stations.forEach((s, i) => makePanel(i));

// squeeze the path notes to the width they take in the original
['note1', 'note2'].forEach(id => {
  const el = document.getElementById(id);
  el.style.transform = `scaleX(${619 / el.offsetWidth})`;
});
</script>
</body>
</html>
